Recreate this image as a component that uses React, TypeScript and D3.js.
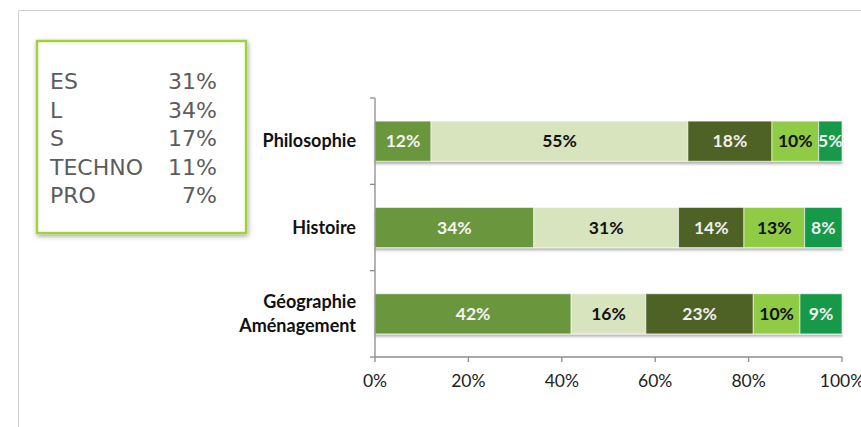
import React from "react";
import * as d3 from "d3";

const categories = ["Philosophie", "Histoire", "Géographie\nAménagement"];
const series = ["ES", "L", "S", "TECHNO", "PRO"];
const valuesES = [12, 34, 42];
const valuesL = [55, 31, 16];
const valuesS = [18, 14, 23];
const valuesTECHNO = [10, 13, 10];
const valuesPRO = [5, 8, 9];
const seriesColors = ["#6b963d", "#d7e4bd", "#4f6228", "#8fcb45", "#129a4a"];
const labelColors = ["#f4f4f4", "#111111", "#f0f0f0", "#111111", "#f0f0f0"];
const xTicks = [0, 20, 40, 60, 80, 100];
const legendNames = ["ES", "L", "S", "TECHNO", "PRO"];
const legendValues = ["31%", "34%", "17%", "11%", "7%"];

const W = 861;
const H = 427;

export default function App() {
  const allValues = [valuesES, valuesL, valuesS, valuesTECHNO, valuesPRO];
  const x = d3.scaleLinear().domain([0, 100]).range([375, 842]);
  const y = d3.scaleBand().domain(categories).range([98, 357]).paddingInner(0.535).paddingOuter(0.2675);
  const rows = categories.map((c, i) => {
    const obj: any = { cat: c };
    series.forEach((s, j) => (obj[s] = allValues[j][i]));
    return obj;
  });
  const stacked = d3.stack().keys(series)(rows);
  const bandStep = y.step();
  const boundaries = [0, 1, 2, 3].map((i) => 98 + i * bandStep);

  return (
    <svg width={W} height={H} style={{ position: "absolute", left: 0, top: 0, background: "#fff" }}>
      <defs>
        <filter id="boxShadow" x="-20%" y="-20%" width="140%" height="140%">
          <feDropShadow dx="1" dy="2" stdDeviation="2.5" floodColor="#000" floodOpacity="0.35" />
        </filter>
        <filter id="barShadow" x="-5%" y="-20%" width="110%" height="160%">
          <feDropShadow dx="0" dy="2.5" stdDeviation="1.2" floodColor="#000" floodOpacity="0.3" />
        </filter>
        {stacked.map((layer, j) =>
          layer.map((d, i) => (
            <clipPath id={`clip-${j}-${i}`} key={`c${j}-${i}`}>
              <rect x={x(d[0])} y={y(categories[i])} width={x(d[1]) - x(d[0])} height={y.bandwidth()} />
            </clipPath>
          ))
        )}
      </defs>
      {/* frame */}
      <line x1={18.5} y1={10.5} x2={W} y2={10.5} stroke="#cfcfcf" strokeWidth={1} />
      <line x1={18.5} y1={10.5} x2={18.5} y2={H} stroke="#cfcfcf" strokeWidth={1} />

      {/* legend box */}
      <rect x={37} y={41} width={209} height={192} fill="#fff" stroke="#a5d03d" strokeWidth={2.5} filter="url(#boxShadow)" />
      {legendNames.map((n, i) => (
        <g key={n} fontFamily="'DejaVu Sans', sans-serif" fontSize={22} fill="#5c5c5c">
          <text x={50} y={89 + i * 28.5}>{n}</text>
          <text x={217} y={89 + i * 28.5} textAnchor="end">{legendValues[i]}</text>
        </g>
      ))}

      {/* bars */}
      <g filter="url(#barShadow)">
        {stacked.map((layer, j) =>
          layer.map((d, i) => (
            <rect
              key={`${j}-${i}`}
              x={x(d[0])}
              y={y(categories[i])}
              width={x(d[1]) - x(d[0])}
              height={y.bandwidth()}
              fill={seriesColors[j]}
              stroke="#ffffff"
              strokeOpacity={0.6}
              strokeWidth={1}
            />
          ))
        )}
      </g>
      {stacked.map((layer, j) =>
        layer.map((d, i) => (
          <text
            key={`t${j}-${i}`}
            x={(x(d[0]) + x(d[1])) / 2}
            y={(y(categories[i]) as number) + y.bandwidth() / 2}
            dy="0.35em"
            textAnchor="middle"
            fontFamily="Lato, sans-serif"
            fontWeight="bold"
            fontSize={17.5}
            fill={labelColors[j]}
            clipPath={`url(#clip-${j}-${i})`}
          >
            {allValues[j][i]}%
          </text>
        ))
      )}

      {/* y axis */}
      <line x1={375} y1={98} x2={375} y2={357} stroke="#8c8c8c" strokeWidth={1.3} />
      {boundaries.map((b, i) => (
        <line key={`yt${i}`} x1={370} y1={b} x2={375} y2={b} stroke="#8c8c8c" strokeWidth={1.3} />
      ))}
      {categories.map((c) => {
        const lines = c.split("\n");
        const cy = (y(c) as number) + y.bandwidth() / 2;
        return (
          <text key={c} x={356} textAnchor="end" fontFamily="Lato, sans-serif" fontWeight="bold" fontSize={18} fill="#111">
            {lines.map((l, k) => (
              <tspan key={k} x={356} y={cy + (k - (lines.length - 1) / 2) * 24} dy="0.35em">
                {l}
              </tspan>
            ))}
          </text>
        );
      })}

      {/* x axis */}
      <line x1={375} y1={357} x2={842} y2={357} stroke="#8c8c8c" strokeWidth={1.3} />
      {xTicks.map((t) => (
        <g key={t}>
          <line x1={x(t)} y1={357} x2={x(t)} y2={362} stroke="#8c8c8c" strokeWidth={1.3} />
          <text x={x(t)} y={381} dy="0.35em" textAnchor="middle" fontFamily="Lato, sans-serif" fontSize={17.5} fill="#222">
            {t}%
          </text>
        </g>
      ))}
    </svg>
  );
}
